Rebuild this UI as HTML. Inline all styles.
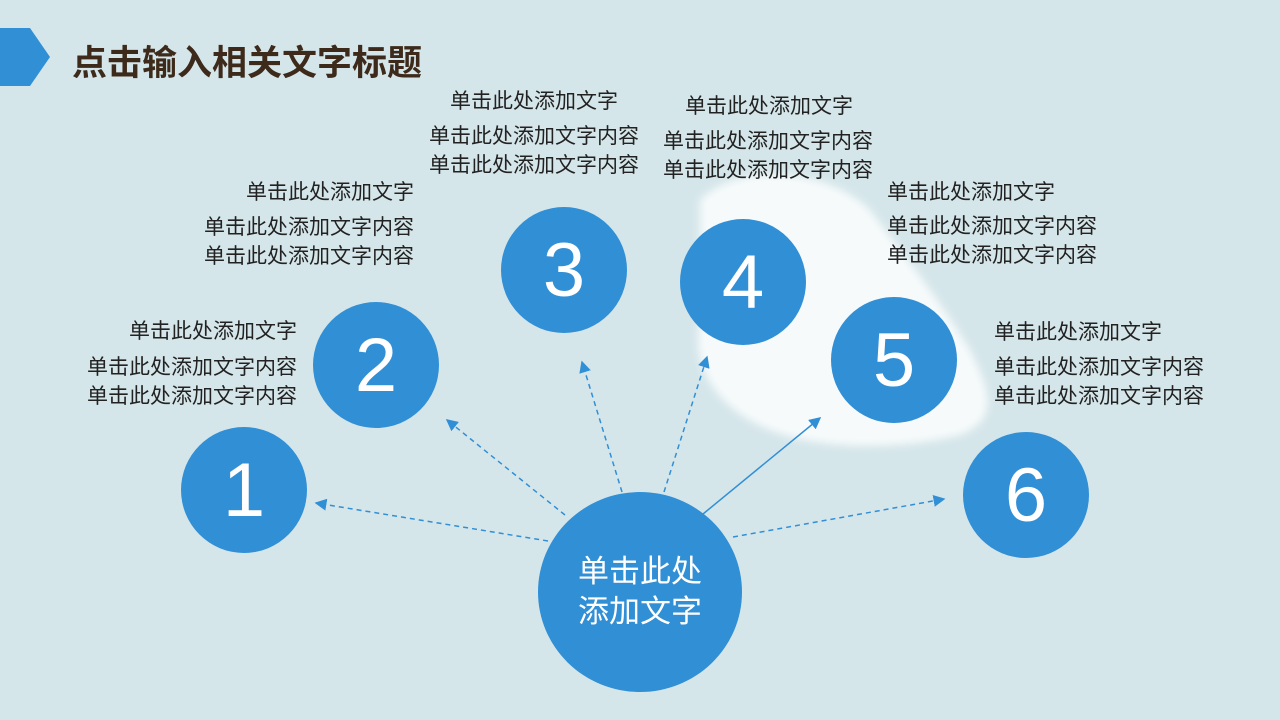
<!DOCTYPE html>
<html><head><meta charset="utf-8"><style>
body{margin:0;width:1280px;height:720px;overflow:hidden;background:#d5e6ea;position:relative;font-family:"Liberation Sans","Noto Sans CJK SC",sans-serif}
.t{position:absolute;font-size:21px;color:#222;white-space:nowrap;line-height:29px}
.c{position:absolute;border-radius:50%;background:#318fd6;color:#fff;display:flex;align-items:center;justify-content:center;font-size:76px;font-family:"Liberation Sans",sans-serif;font-weight:normal}
</style></head><body>
<svg width="1280" height="720" style="position:absolute;left:0;top:0">
<defs><filter id="b"><feGaussianBlur stdDeviation="4"/></filter>
<marker id="a" markerWidth="8" markerHeight="8" refX="7" refY="4" orient="auto"><path d="M0,0L8,4L0,8z" fill="#318fd6"/></marker></defs>
<path d="M700,200 C740,160 830,170 870,210 C900,250 940,300 970,350 C990,390 1000,420 960,435 C900,450 820,450 770,430 C720,410 690,370 700,320 Z" fill="#f6fafb" filter="url(#b)"/>
<polygon points="0,28 30,28 50,57 30,86 0,86" fill="#318fd6"/>
<g stroke="#318fd6" stroke-width="1.5" fill="none" marker-end="url(#a)">
<line x1="548" y1="541" x2="316" y2="503" stroke-dasharray="5,4"/>
<line x1="565" y1="515" x2="447" y2="420" stroke-dasharray="5,4"/>
<line x1="622" y1="492" x2="582" y2="362" stroke-dasharray="5,4"/>
<line x1="664" y1="492" x2="707" y2="357" stroke-dasharray="5,4"/>
<line x1="703" y1="514" x2="820" y2="418"/>
<line x1="733" y1="537" x2="944" y2="499" stroke-dasharray="5,4"/>
</g>
</svg>
<div style="position:absolute;left:72px;top:35px;font-size:35px;font-weight:bold;color:#3d2a1a;white-space:nowrap">点击输入相关文字标题</div>
<div class="c" style="left:181px;top:427px;width:126px;height:126px">1</div>
<div class="c" style="left:313px;top:302px;width:126px;height:126px">2</div>
<div class="c" style="left:501px;top:207px;width:126px;height:126px">3</div>
<div class="c" style="left:680px;top:219px;width:126px;height:126px">4</div>
<div class="c" style="left:831px;top:297px;width:126px;height:126px">5</div>
<div class="c" style="left:963px;top:432px;width:126px;height:126px">6</div>
<div class="c" style="left:538px;top:492px;width:204px;height:200px;font-size:31px;font-family:'Liberation Sans','Noto Sans CJK SC',sans-serif;line-height:40px;text-align:center">单击此处<br>添加文字</div>
<div class="t" style="left:129px;top:317px">单击此处添加文字</div>
<div class="t" style="left:87px;top:353px">单击此处添加文字内容<br>单击此处添加文字内容</div>
<div class="t" style="left:246px;top:178px">单击此处添加文字</div>
<div class="t" style="left:204px;top:213px">单击此处添加文字内容<br>单击此处添加文字内容</div>
<div class="t" style="left:450px;top:87px">单击此处添加文字</div>
<div class="t" style="left:429px;top:122px">单击此处添加文字内容<br>单击此处添加文字内容</div>
<div class="t" style="left:685px;top:92px">单击此处添加文字</div>
<div class="t" style="left:663px;top:127px">单击此处添加文字内容<br>单击此处添加文字内容</div>
<div class="t" style="left:887px;top:178px">单击此处添加文字</div>
<div class="t" style="left:887px;top:212px">单击此处添加文字内容<br>单击此处添加文字内容</div>
<div class="t" style="left:994px;top:318px">单击此处添加文字</div>
<div class="t" style="left:994px;top:353px">单击此处添加文字内容<br>单击此处添加文字内容</div>
</body></html>
